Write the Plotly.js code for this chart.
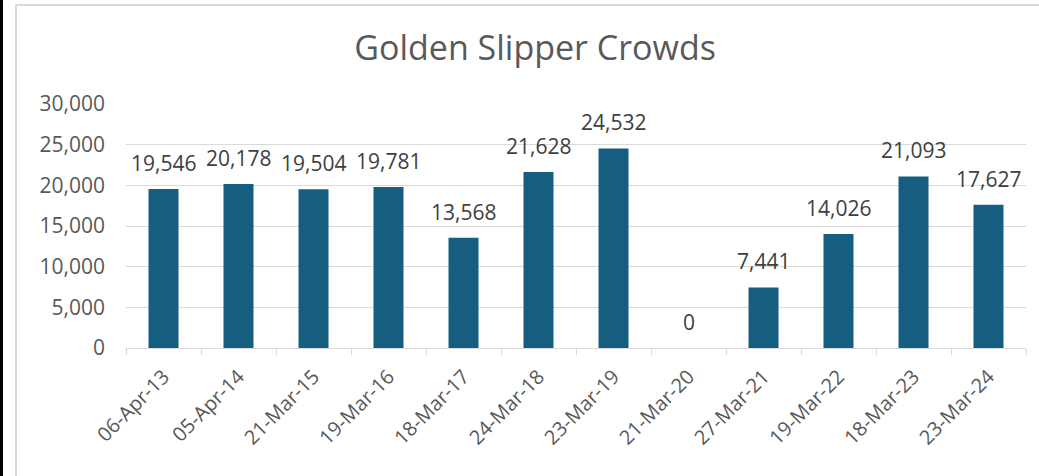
<!DOCTYPE html>
<html>
<head>
<meta charset="utf-8">
<script src="https://cdn.plot.ly/plotly-3.0.1.min.js"></script>
<style>
  html, body { margin: 0; padding: 0; background: #ffffff; overflow: hidden; }
  #strip { position: absolute; left: 0; top: 0; width: 3px; height: 476px; background: #000; }
  #frame { position: absolute; left: 15px; top: 4px; width: 1100px; height: 600px; border: 2px solid #d9d9d9; box-sizing: border-box; }
  #chart { position: absolute; left: 0; top: 0; width: 1039px; height: 476px; }
</style>
</head>
<body>
<div id="strip"></div>
<div id="frame"></div>
<div id="chart"></div>
<script>
const categories = ["06-Apr-13", "05-Apr-14", "21-Mar-15", "19-Mar-16", "18-Mar-17", "24-Mar-18",
                    "23-Mar-19", "21-Mar-20", "27-Mar-21", "19-Mar-22", "18-Mar-23", "23-Mar-24"];
const crowds = [19546, 20178, 19504, 19781, 13568, 21628, 24532, 0, 7441, 14026, 21093, 17627];
const yTickValues = [0, 5000, 10000, 15000, 20000, 25000, 30000];

const FONT = "Open Sans, Liberation Sans, sans-serif";

const trace = {
  type: "bar",
  x: categories,
  y: crowds,
  marker: { color: "#165e80" },
  hoverinfo: "x+y"
};

const annotations = categories.map((c, i) => ({
  x: c,
  y: crowds[i],
  xref: "x",
  yref: "y",
  text: crowds[i].toLocaleString("en-US"),
  showarrow: false,
  yanchor: "middle",
  yshift: 26,
  font: { family: FONT, size: 21, color: "#404040" }
}));

const layout = {
  width: 1039,
  height: 476,
  margin: { l: 126, r: 13, t: 104, b: 128 },
  paper_bgcolor: "rgba(0,0,0,0)",
  plot_bgcolor: "rgba(0,0,0,0)",
  bargap: 0.6,
  showlegend: false,
  title: {
    text: "Golden Slipper Crowds",
    x: 0.515, xref: "container", xanchor: "center",
    y: 0.899, yref: "container", yanchor: "middle",
    font: { family: FONT, size: 34, color: "#595959" }
  },
  xaxis: {
    type: "category",
    tickangle: -45,
    ticks: "outside",
    tickson: "boundaries",
    ticklen: 6,
    tickcolor: "#d9d9d9",
    showline: true,
    linecolor: "#d9d9d9",
    linewidth: 1,
    showgrid: false,
    ticklabelstandoff: 8,
    tickfont: { family: FONT, size: 20, color: "#595959" }
  },
  yaxis: {
    range: [0, 30000],
    tickvals: yTickValues,
    tickformat: ",d",
    showgrid: true,
    gridcolor: "#d9d9d9",
    gridwidth: 1,
    zeroline: false,
    showline: false,
    ticks: "",
    ticklabelstandoff: 20,
    tickfont: { family: FONT, size: 21, color: "#595959" }
  },
  annotations: annotations
};

Plotly.newPlot("chart", [trace], layout, { displayModeBar: false, staticPlot: true });
</script>
</body>
</html>
